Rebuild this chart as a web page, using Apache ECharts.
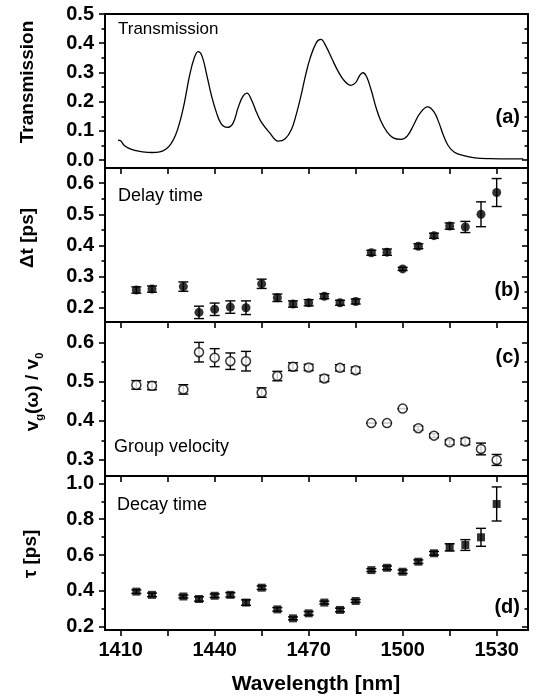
<!DOCTYPE html>
<html><head><meta charset="utf-8">
<script src="https://cdn.jsdelivr.net/npm/echarts@6/dist/echarts.min.js"></script>
<style>html,body{margin:0;padding:0;background:#fff}#c{width:537px;height:698px}</style>
</head><body><div id="c"></div>
<script>
// ---------- DATA ----------
const wavelengths = [1415,1420,1430,1435,1440,1445,1450,1455,1460,1465,1470,1475,1480,1485,1490,1495,1500,1505,1510,1515,1520,1525,1530];

const transWl  = [1409.2,1410,1411,1412.5,1414.5,1417,1420,1422.5,1424.5,1426,1427.5,1429,1430.5,1432,1433.5,1434.7,1436,1437.5,1439,1440.5,1442,1444,1445.8,1447.5,1449,1450.3,1451.8,1453.5,1455,1457.5,1460.3,1462.5,1464.5,1466,1467.5,1469,1470.5,1472.5,1473.9,1475.5,1477.5,1479.5,1481.5,1483.5,1485,1486.3,1487.3,1488.5,1490,1491.5,1493,1495,1497,1499.5,1501.5,1503.5,1505.5,1508,1510,1511.5,1513,1514.5,1516.5,1519.5,1523,1528,1534,1538.5];
const transVal = [0.068,0.066,0.052,0.041,0.033,0.028,0.026,0.028,0.038,0.055,0.085,0.135,0.205,0.29,0.35,0.371,0.355,0.29,0.22,0.165,0.126,0.112,0.125,0.18,0.218,0.229,0.205,0.16,0.128,0.094,0.065,0.073,0.105,0.155,0.218,0.29,0.35,0.403,0.413,0.39,0.345,0.302,0.27,0.256,0.265,0.29,0.299,0.285,0.238,0.18,0.135,0.097,0.076,0.071,0.083,0.12,0.16,0.182,0.165,0.13,0.085,0.05,0.027,0.015,0.008,0.005,0.004,0.004];

const delayVal = [0.256,0.259,0.267,0.184,0.194,0.201,0.199,0.276,0.231,0.211,0.215,0.236,0.215,0.219,0.376,0.378,0.324,0.397,0.431,0.462,0.459,0.500,0.570];
const delayErr = [0.010,0.010,0.015,0.020,0.020,0.020,0.022,0.015,0.012,0.010,0.010,0.008,0.008,0.008,0.008,0.010,0.005,0.008,0.008,0.010,0.018,0.040,0.045];

const vgVal = [0.4915,0.489,0.480,0.575,0.561,0.552,0.552,0.472,0.514,0.538,0.536,0.508,0.535,0.529,0.394,0.394,0.431,0.381,0.362,0.345,0.347,0.328,0.300];
const vgErr = [0.011,0.010,0.012,0.025,0.023,0.021,0.025,0.012,0.012,0.010,0.008,0.008,0.008,0.008,0.000,0.000,0.000,0.005,0.005,0.006,0.008,0.015,0.014];

const decayVal = [0.396,0.378,0.369,0.355,0.373,0.378,0.335,0.418,0.297,0.247,0.275,0.335,0.294,0.344,0.516,0.529,0.507,0.563,0.610,0.643,0.656,0.699,0.885];
const decayErr = [0.010,0.010,0.008,0.012,0.010,0.012,0.015,0.010,0.010,0.008,0.010,0.008,0.010,0.008,0.008,0.010,0.010,0.010,0.010,0.020,0.030,0.050,0.095];

const xTicks  = [1410,1425,1440,1455,1470,1485,1500,1515,1530];
const xLabels = [1410,1440,1470,1500,1530];
const aTicks = [0,0.1,0.2,0.3,0.4,0.5];
const aMinor = [0.05,0.15,0.25,0.35,0.45];
const bTicks = [0.2,0.3,0.4,0.5,0.6];
const bMinor = [0.25,0.35,0.45,0.55];
const cTicks = [0.3,0.4,0.5,0.6];
const cMinor = [0.35,0.45,0.55];
const dTicks = [0.2,0.4,0.6,0.8,1.0];
const dMinor = [0.3,0.5,0.7,0.9];

// ---------- LAYOUT ----------
const FONT = 'Liberation Sans, Arial, Helvetica, sans-serif';
const tops = [14,168,322,476];
const H = 154;
const ranges = [[-0.027,0.5],[0.153,0.649],[0.259,0.652],[0.182,1.041]];
const majors = [aTicks,bTicks,cTicks,dTicks];
const minors = [aMinor,bMinor,cMinor,dMinor];

const grid = tops.map(t => ({left:105, right:9, top:t, height:H, show:true, borderColor:'#000', borderWidth:2, backgroundColor:'transparent'}));

const xAxis = tops.map((t,p) => ({
  type:'value', gridIndex:p, min:1405, max:1540, position:'bottom',
  axisLine:{show:true, onZero:false, lineStyle:{color:'#000', width:2}},
  axisTick:{show:true, inside:false, length:6, customValues:xTicks, lineStyle:{color:'#000', width:1.6}},
  axisLabel:{show:p===3, customValues:xLabels, formatter:v=>String(Math.round(v)), margin:10, color:'#000', fontSize:20, fontWeight:'bold', fontFamily:FONT},
  splitLine:{show:false}
}));

const yAxis = [];
for (let p=0;p<4;p++){
  const base = {type:'value', gridIndex:p, min:ranges[p][0], max:ranges[p][1], splitLine:{show:false}};
  yAxis.push(Object.assign({}, base, {position:'left',
    axisLine:{show:true, onZero:false, lineStyle:{color:'#000', width:2}},
    axisTick:{show:true, inside:false, length:6, customValues:majors[p], lineStyle:{color:'#000', width:1.6}},
    axisLabel:{show:true, customValues:majors[p], formatter:v=>v.toFixed(1), margin:11, color:'#000', fontSize:20, fontWeight:'bold', fontFamily:FONT}}));
  yAxis.push(Object.assign({}, base, {position:'left',
    axisLine:{show:false}, axisLabel:{show:false},
    axisTick:{show:true, inside:false, length:3.5, customValues:minors[p], lineStyle:{color:'#000', width:1.6}}}));
  yAxis.push(Object.assign({}, base, {position:'right',
    axisLine:{show:true, onZero:false, lineStyle:{color:'#000', width:2}}, axisLabel:{show:false},
    axisTick:{show:true, inside:true, length:6, customValues:majors[p], lineStyle:{color:'#000', width:1.6}}}));
  yAxis.push(Object.assign({}, base, {position:'right',
    axisLine:{show:false}, axisLabel:{show:false},
    axisTick:{show:true, inside:true, length:3.5, customValues:minors[p], lineStyle:{color:'#000', width:1.6}}}));
}

function errSeries(p, vals, errs){
  return {
    type:'custom', xAxisIndex:p, yAxisIndex:p*4, z:2, silent:true,
    data: wavelengths.map((w,i)=>[w, vals[i]-errs[i], vals[i]+errs[i]]),
    renderItem(params, api){
      const lo = api.coord([api.value(0), api.value(1)]);
      const hi = api.coord([api.value(0), api.value(2)]);
      const cw = 5, st = {stroke:'#000', lineWidth:1.4};
      return {type:'group', children:[
        {type:'line', shape:{x1:lo[0],y1:lo[1],x2:hi[0],y2:hi[1]}, style:st},
        {type:'line', shape:{x1:lo[0]-cw,y1:lo[1],x2:lo[0]+cw,y2:lo[1]}, style:st},
        {type:'line', shape:{x1:hi[0]-cw,y1:hi[1],x2:hi[0]+cw,y2:hi[1]}, style:st}
      ]};
    }
  };
}

const series = [
  {type:'line', xAxisIndex:0, yAxisIndex:0, data:transWl.map((w,i)=>[w,transVal[i]]),
   showSymbol:false, smooth:0.4, lineStyle:{color:'#000', width:1.3}, silent:true},
  errSeries(1, delayVal, delayErr),
  {type:'scatter', xAxisIndex:1, yAxisIndex:4, z:3, data:wavelengths.map((w,i)=>[w,delayVal[i]]),
   symbol:'circle', symbolSize:9, itemStyle:{color:'#000'}},
  errSeries(2, vgVal, vgErr),
  {type:'scatter', xAxisIndex:2, yAxisIndex:8, z:3, data:wavelengths.map((w,i)=>[w,vgVal[i]]),
   symbol:'circle', symbolSize:9, itemStyle:{color:'#fff', borderColor:'#000', borderWidth:1.5}},
  errSeries(3, decayVal, decayErr),
  {type:'scatter', xAxisIndex:3, yAxisIndex:12, z:3, data:wavelengths.map((w,i)=>[w,decayVal[i]]),
   symbol:'rect', symbolSize:8, itemStyle:{color:'#000'}}
];

function txt(x,y,text,size,weight,align,rot){
  return {type:'text', x:x, y:y, rotation:rot||0, z:10,
    style:{text:text, fill:'#000', fontSize:size, fontWeight:weight, fontFamily:FONT, align:align||'left', verticalAlign:'middle'}};
}

const graphic = [
  txt(28,82,'Transmission',19,'bold','center',Math.PI/2),
  txt(28,238,'Δt [ps]',19,'bold','center',Math.PI/2),
  {type:'text', x:31, y:392, rotation:Math.PI/2, z:10,
   style:{text:'{a|v}{s|g}{a|(ω) / v}{s|0}', align:'center', verticalAlign:'middle', fill:'#000',
     rich:{a:{fontSize:19, fontWeight:'bold', fontFamily:FONT, fill:'#000', lineHeight:22, verticalAlign:'bottom'},
           s:{fontSize:11, fontWeight:'bold', fontFamily:FONT, fill:'#000', lineHeight:22, verticalAlign:'bottom', padding:[0,0,-3,0]}}}},
  txt(31,554,'τ [ps]',19,'bold','center',Math.PI/2),
  txt(316,684,'Wavelength [nm]',21,'bold','center'),
  txt(118,29,'Transmission',17,'normal','left'),
  txt(118,196,'Delay time',18,'normal','left'),
  txt(114,447,'Group velocity',18,'normal','left'),
  txt(117,505,'Decay time',18,'normal','left'),
  txt(520,117,'(a)',20,'bold','right'),
  txt(520,290,'(b)',20,'bold','right'),
  txt(520,357,'(c)',20,'bold','right'),
  txt(520,607,'(d)',20,'bold','right')
];

const chart = echarts.init(document.getElementById('c'), null, {renderer:'canvas'});
chart.setOption({animation:false, backgroundColor:'#fff', grid, xAxis, yAxis, series, graphic});
</script>
</body></html>
